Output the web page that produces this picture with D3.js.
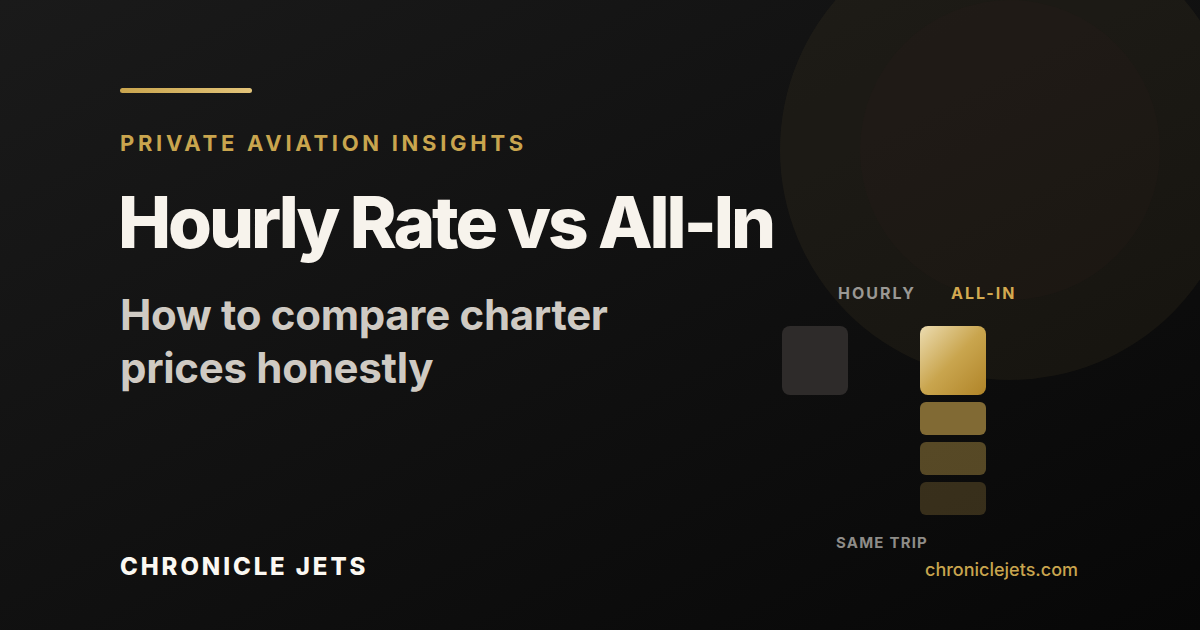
<!DOCTYPE html><html><head><meta charset="utf-8"><script src="https://cdn.jsdelivr.net/npm/d3@7"></script>
<style>body{margin:0;background:#0b0b0b}svg{display:block}</style></head><body><svg id="c" width="1200" height="630"></svg>
<script>
const columns = ["HOURLY","ALL-IN"];
const hourlySegments = [69];
const allInSegments = [69, 33, 33, 33];
const allInOpacity = [1, 0.62, 0.4, 0.24];
const eyebrow = "PRIVATE AVIATION INSIGHTS";
const title = "Hourly Rate vs All-In";
const subtitle = ["How to compare charter","prices honestly"];
const brand = "CHRONICLE JETS";
const site = "chroniclejets.com";
const footLabel = "SAME TRIP";

const svg = d3.select("#c");
const defs = svg.append("defs");
const bg = defs.append("linearGradient").attr("id","bg").attr("x1",0).attr("y1",0).attr("x2",1).attr("y2",1);
bg.append("stop").attr("offset",0).attr("stop-color","#1a1a1a");
bg.append("stop").attr("offset",1).attr("stop-color","#070707");
const gold = defs.append("linearGradient").attr("id","gold").attr("x1",0).attr("y1",0).attr("x2",1).attr("y2",1);
gold.append("stop").attr("offset",0).attr("stop-color","#ecdcb0");
gold.append("stop").attr("offset",0.5).attr("stop-color","#c9a54e");
gold.append("stop").attr("offset",1).attr("stop-color","#b08428");
const line = defs.append("linearGradient").attr("id","line");
line.append("stop").attr("offset",0).attr("stop-color","#c9a54e");
line.append("stop").attr("offset",1).attr("stop-color","#e3c47a");

svg.append("rect").attr("width",1200).attr("height",630).attr("fill","url(#bg)");
svg.append("circle").attr("cx",1010).attr("cy",150).attr("r",230).attr("fill","#c9a54e").attr("opacity",0.06);
svg.append("circle").attr("cx",1010).attr("cy",150).attr("r",150).attr("fill","#3a2420").attr("opacity",0.12);

svg.append("rect").attr("x",120).attr("y",88).attr("width",132).attr("height",5).attr("rx",2.5).attr("fill","url(#line)");
svg.append("text").attr("x",120).attr("y",151).text(eyebrow).attr("font-family","Inter").attr("font-weight",700).attr("font-size",22).attr("letter-spacing",3.7).attr("fill","#c9a54e");
svg.append("text").attr("x",118).attr("y",248).text(title).attr("font-family","Inter").attr("font-weight",800).attr("font-size",71).attr("letter-spacing",-3.1).attr("fill","#f7f3ec");
svg.append("g").selectAll("text").data(subtitle).join("text").attr("x",120).attr("y",(d,i)=>330+i*53).text(d=>d)
 .attr("font-family","Inter").attr("font-weight",700).attr("font-size",42).attr("letter-spacing",-0.3).attr("fill","#cfcac3");
svg.append("text").attr("x",120).attr("y",575).text(brand).attr("font-family","Inter").attr("font-weight",800).attr("font-size",24).attr("letter-spacing",2.9).attr("fill","#fbf8f2");

const x = d3.scaleOrdinal().domain(columns).range([782,920]);
const lx = d3.scaleOrdinal().domain(columns).range([838,951]);
const bw = 66;
const h = d3.scaleLinear().domain([0,69]).range([0,69]);
const gap = 7, top0 = 326;
svg.append("g").selectAll("text").data(columns).join("text").attr("x",d=>lx(d)).attr("y",299)
 .text(d=>d).attr("font-family","Inter").attr("font-weight",700).attr("font-size",16).attr("letter-spacing",2)
 .attr("fill",(d,i)=>i?"#d4aa50":"#9a9894");
svg.append("g").selectAll("rect").data(hourlySegments).join("rect").attr("x",x("HOURLY")).attr("y",top0).attr("width",bw).attr("height",d=>h(d)).attr("rx",8).attr("fill","#2e2b2a");
let acc = top0;
const ys = allInSegments.map(d=>{const y=acc; acc+=h(d)+gap; return y;});
svg.append("g").selectAll("rect").data(allInSegments).join("rect").attr("x",x("ALL-IN")).attr("y",(d,i)=>ys[i]).attr("width",bw).attr("height",d=>h(d)).attr("rx",(d,i)=>i?6:8)
 .attr("fill",(d,i)=>i?"#c9a54e":"url(#gold)").attr("opacity",(d,i)=>allInOpacity[i]);
svg.append("text").attr("x",836).attr("y",548).text(footLabel).attr("font-family","Inter").attr("font-weight",700).attr("font-size",15).attr("letter-spacing",1.2).attr("fill","#8e8c88");
svg.append("text").attr("x",925).attr("y",576).text(site).attr("font-family","Inter").attr("font-weight",500).attr("font-size",18).attr("fill","#c9a54e");
</script></body></html>
